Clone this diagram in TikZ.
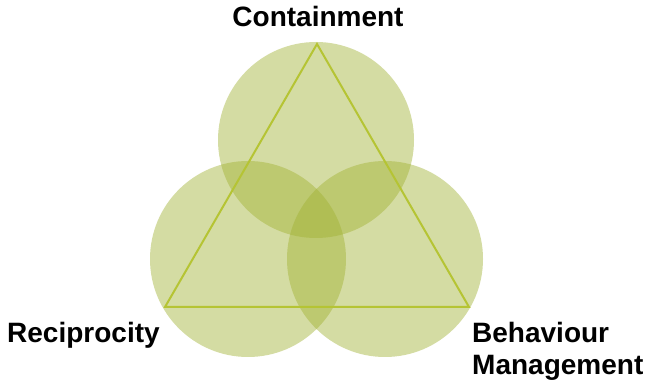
\documentclass[tikz,border=0pt]{standalone}
\usepackage{fontspec}
\setmainfont{Liberation Sans}
\usepackage{xcolor}

\definecolor{venngreen}{RGB}{160,177,50}
\definecolor{edgegreen}{RGB}{181,196,52}

\begin{document}
\begin{tikzpicture}[
            x=1pt, y=1pt,
            set/.style={circle, fill=venngreen, fill opacity=0.45, minimum size=196pt, inner sep=0pt},
            label/.style={font=\bfseries\fontsize{28}{30}\selectfont, inner sep=0pt, anchor=base west}
        ]
            \useasboundingbox (0, 0) rectangle (650, 382);

            \node[set] (containment) at (316, 242) {};
            \node[set] (reciprocity) at (248, 123) {};
            \node[set] (behaviour) at (385, 123) {};

            \coordinate (top) at (317, 338);
            \coordinate (left) at (165, 75);
            \coordinate (right) at (469, 75);
            \draw[edgegreen, line width=2pt, line join=miter] (top) -- (left) -- (right) -- cycle;

            \node[label, anchor=base] (containmentText) at (318, 355) {Containment};
            \node[label] (reciprocityText) at (7, 39) {Reciprocity};
            \node[label] (behaviourText) at (472, 39) {Behaviour};
            \node[label] (managementText) at (472, 7) {Management};
        \end{tikzpicture}
\end{document}
